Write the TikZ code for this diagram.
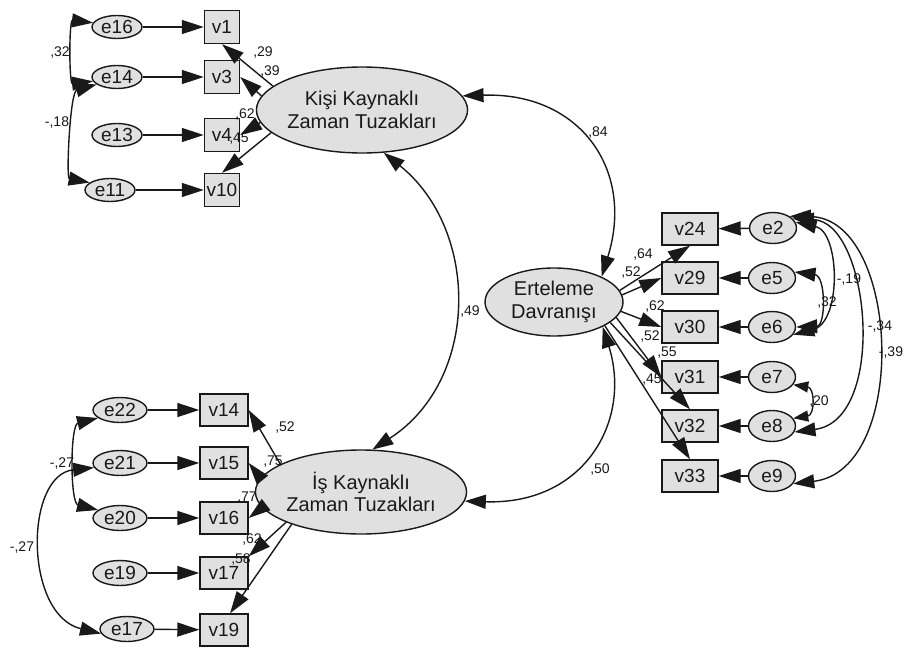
\documentclass[tikz,border=0pt]{standalone}
\usepackage{fontspec}
\setmainfont{Liberation Sans}
\usetikzlibrary{shapes.geometric,arrows.meta}
\definecolor{nodegray}{RGB}{224,224,224}
\definecolor{ink}{RGB}{25,25,25}
\begin{document}
\begin{tikzpicture}[x=1pt,y=-1pt,
  base/.style={draw=ink,fill=nodegray,line width=1.4pt,inner sep=0pt,text=ink,font=\fontsize{19}{22}\selectfont},
  esmall/.style={base,ellipse,minimum width=50pt,minimum height=23pt},
  ebot/.style={base,ellipse,minimum width=54pt,minimum height=25pt},
  eright/.style={base,ellipse,minimum width=47pt,minimum height=31pt},
  vsmall/.style={base,rectangle,minimum width=35pt,minimum height=33pt},
  vbot/.style={base,rectangle,minimum width=48pt,minimum height=32pt},
  vright/.style={base,rectangle,minimum width=56pt,minimum height=32pt},
  latent/.style={base,ellipse,align=center,font=\fontsize{20}{22.5}\selectfont},
  reg/.style={draw=ink,line width=1.4pt,-{Triangle[length=22pt,width=14pt]}},
  cov/.style={draw=ink,line width=1.4pt,{Triangle[length=21pt,width=14pt]}-{Triangle[length=21pt,width=14pt]}},
  covs/.style={draw=ink,line width=1.4pt,{Triangle[length=15pt,width=11pt]}-{Triangle[length=15pt,width=11pt]}},
  lab/.style={font=\fontsize{14}{16}\selectfont,inner sep=0pt,text=ink}
]
\useasboundingbox (0,0) rectangle (906,648);

% latent variables
\node[latent,minimum width=184pt,minimum height=86pt] (K) at (362,110) {Kişi Kaynaklı\\Zaman Tuzakları};
\node[latent,minimum width=138pt,minimum height=68pt] (E) at (554,302) {Erteleme\\Davranışı};
\node[latent,minimum width=192pt,minimum height=84pt] (I) at (361,492) {İş Kaynaklı\\Zaman Tuzakları};

% top-left group
\node[esmall] (e16) at (117,27) {e16};
\node[esmall] (e14) at (117,77) {e14};
\node[esmall] (e13) at (117,135) {e13};
\node[esmall] (e11) at (110,190) {e11};
\node[vsmall] (v1) at (222,27) {v1};
\node[vsmall] (v3) at (222,77) {v3};
\node[vsmall] (v4) at (222,135) {v4};
\node[vsmall] (v10) at (222,190) {v10};

% bottom-left group
\node[ebot] (e22) at (120,410) {e22};
\node[ebot] (e21) at (120,463) {e21};
\node[ebot] (e20) at (120,518) {e20};
\node[ebot] (e19) at (120,573) {e19};
\node[ebot] (e17) at (127,629) {e17};
\node[vbot] (v14) at (224,410) {v14};
\node[vbot] (v15) at (224,463) {v15};
\node[vbot] (v16) at (224,518) {v16};
\node[vbot] (v17) at (224,573) {v17};
\node[vbot] (v19) at (224,630) {v19};

% right group
\node[vright] (v24) at (690,229) {v24};
\node[vright] (v29) at (690,278) {v29};
\node[vright] (v30) at (690,327) {v30};
\node[vright] (v31) at (690,377) {v31};
\node[vright] (v32) at (690,426) {v32};
\node[vright] (v33) at (690,476) {v33};
\node[eright] (e2) at (773,228) {e2};
\node[eright] (e5) at (772,278) {e5};
\node[eright] (e6) at (772,327) {e6};
\node[eright] (e7) at (772,377) {e7};
\node[eright] (e8) at (772,426) {e8};
\node[eright] (e9) at (772,476) {e9};

% error -> indicator
\draw[reg] (e16) -- (v1);
\draw[reg] (e14) -- (v3);
\draw[reg] (e13) -- (v4);
\draw[reg] (e11) -- (v10);
\draw[reg] (e22) -- (v14);
\draw[reg] (e21) -- (v15);
\draw[reg] (e20) -- (v16);
\draw[reg] (e19) -- (v17);
\draw[reg] (e17) -- (v19);
\draw[reg] (e2) -- (v24);
\draw[reg] (e5) -- (v29);
\draw[reg] (e6) -- (v30);
\draw[reg] (e7) -- (v31);
\draw[reg] (e8) -- (v32);
\draw[reg] (e9) -- (v33);

% latent -> indicator
\draw[reg] (K.165) -- (v1.south);
\draw[reg] (K.172) -- (v3.east);
\draw[reg] (K.-173) -- (v4.east);
\draw[reg] (K.-166) -- (v10.north);
\draw[reg] (I.161) -- (v14.east);
\draw[reg] (I.172) -- (v15.east);
\draw[reg] (I.-171) -- (v16.east);
\draw[reg] (I.-158) -- (v17.north east);
\draw[reg] (I.-155) -- (v19.70);
\draw[reg] (E.10) -- (v24.south);
\draw[reg] (E.6) -- (v29.west);
\draw[reg] (E.-8) -- (v30.west);
\draw[reg] (E.-14) -- (v31.west);
\draw[reg] (E.-20) -- (v32.north);
\draw[reg] (E.-25) -- (v33.north);

% latent covariances
\draw[cov] (K.8) .. controls (580,92) and (635,170) .. (E.28);
\draw[cov] (K.-63) .. controls (480,230) and (480,380) .. (I.75);
\draw[cov] (I.-5) .. controls (585,505) and (632,420) .. (E.-27);

% error covariances left
\draw[cov] (e16.170) .. controls (69,20) and (69,84) .. (e14.190);
\draw[cov] (e14.200) .. controls (70,92) and (66,178) .. (e11.160);
\draw[cov] (e22.200) .. controls (70,425) and (70,503) .. (e20.160);
\draw[cov] (e21.190) .. controls (24,475) and (24,615) .. (e17.190);

% error covariances right
\draw[cov] (e2.15) .. controls (840,232) and (842,322) .. (e6.-20);
\draw[cov] (e5.15) .. controls (826,276) and (826,326) .. (e6.0);
\draw[cov] (e2.25) .. controls (870,222) and (888,420) .. (e8.-15);
\draw[cov] (e2.35) .. controls (900,218) and (910,470) .. (e9.-20);
\draw[covs] (e7.-20) .. controls (815,388) and (815,415) .. (e8.20);

% labels
\node[lab] (l29) at (263,53) {,29};
\node[lab] (l39) at (270,72) {,39};
\node[lab] (l62a) at (245,115) {,62};
\node[lab] (l45a) at (239,139) {,45};
\node[lab] (l32a) at (60,53) {,32};
\node[lab] (l18) at (57,123) {-,18};
\node[lab] (l84) at (598,133) {,84};
\node[lab] (l49) at (470,312) {,49};
\node[lab] (l50) at (600,470) {,50};
\node[lab] (l52b) at (285,428) {,52};
\node[lab] (l75) at (273,462) {,75};
\node[lab] (l77) at (247,498) {,77};
\node[lab] (l62b) at (252,540) {,62};
\node[lab] (l58) at (241,560) {,58};
\node[lab] (l27a) at (62,464) {-,27};
\node[lab] (l27b) at (22,548) {-,27};
\node[lab] (l64) at (643,255) {,64};
\node[lab] (l52c) at (631,273) {,52};
\node[lab] (l62c) at (655,307) {,62};
\node[lab] (l52d) at (650,337) {,52};
\node[lab] (l55) at (667,353) {,55};
\node[lab] (l45c) at (652,380) {,45};
\node[lab] (l19) at (849,280) {-,19};
\node[lab] (l32b) at (827,303) {,32};
\node[lab] (l34) at (880,327) {-,34};
\node[lab] (l39b) at (891,353) {-,39};
\node[lab] (l20) at (819,402) {,20};
\end{tikzpicture}
\end{document}
